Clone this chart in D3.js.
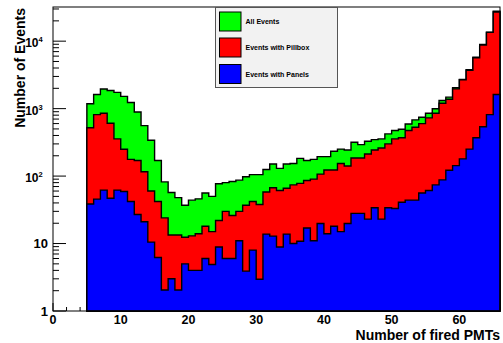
<!DOCTYPE html>
<html>
<head>
<meta charset="utf-8">
<script src="https://cdn.jsdelivr.net/npm/d3@7"></script>
<style>
  body { margin: 0; background: #fff; }
  svg text { font-family: "Liberation Sans", Arial, Helvetica, sans-serif; font-weight: bold; }
</style>
</head>
<body>
<div id="chart"></div>
<script>
// histogram contents, one value per unit bin, first bin starts at 5
const firstBin = 5
const allEvents = [1180, 1620, 1950, 1860, 1740, 1520, 1230, 890, 560, 340,
  170, 82, 57, 48, 37, 44, 46, 56, 50, 77,
  80, 83, 87, 98, 105, 105, 125, 151, 130, 151,
  154, 183, 170, 177, 194, 194, 233, 251, 243, 317,
  293, 328, 347, 356, 422, 473, 495, 593, 680, 745,
  853, 995, 1320, 1480, 2040, 2700, 3780, 5780, 8930, 13600, 27700]
const pillbox = [520, 815, 853, 606, 356, 250, 177, 170, 116, 60,
  42, 24, 13.4, 13.4, 12.4, 13, 14, 18, 15, 22,
  30, 26, 30, 37, 42, 38, 58, 67, 61, 66,
  74, 78, 86, 90, 107, 123, 123, 154, 141, 185,
  185, 212, 243, 261, 300, 356, 370, 473, 529, 600,
  730, 853, 1200, 1380, 1960, 2680, 3700, 5690, 8760, 13500, 27000]
const panels = [38.5, 45.6, 62, 47, 62, 59, 42, 27, 21, 10.5,
  6.2, 2.05, 3.0, 2.05, 5.0, 4.0, 4.0, 6, 4.9, 8.9,
  6, 6, 11, 3.9, 8, 2.96, 13.8, 12.9, 8.9, 13.8,
  10, 10.8, 17, 11, 19.8, 14, 18, 15, 19.8, 28,
  28, 23, 34, 23, 34, 33, 41, 44, 44, 56,
  61, 74, 88, 122, 143, 180, 251, 370, 540, 815, 1620]

const seriesNames = ['All Events', 'Events with Pillbox', 'Events with Panels']
const seriesColors = ['#00ff00', '#ff0000', '#0000ff']
const xTicks = [0, 10, 20, 30, 40, 50, 60]
const yDecades = [1, 10, 100, 1000, 10000]

const width = 503
const height = 343
const frame = { left: 53, right: 500, top: 7, bottom: 311 }

const x = d3.scaleLinear().domain([0, 66]).range([frame.left, frame.right])
const y = d3.scaleLog().domain([1, 32100]).range([frame.bottom, frame.top])

const svg = d3.select('#chart').append('svg')
  .attr('width', width)
  .attr('height', height)

svg.append('rect')
  .attr('x', 0).attr('y', 0).attr('width', width).attr('height', height)
  .attr('fill', '#fff')

// ticks (drawn first so the fills cover them, like ROOT)
const tickG = svg.append('g').attr('stroke', '#000').attr('stroke-width', 1)
const minorX = d3.range(0, 67, 2)
tickG.selectAll('.xt').data(minorX).enter().append('line')
  .attr('x1', d => x(d)).attr('x2', d => x(d))
  .attr('y1', frame.bottom)
  .attr('y2', d => frame.bottom - (d % 10 === 0 ? 8 : 4))

const minorY = []
yDecades.forEach(dec => {
  for (let m = 1; m < 10; m++) {
    const v = dec * m
    if (v <= 32100) minorY.push(v)
  }
})
tickG.selectAll('.yt').data(minorY).enter().append('line')
  .attr('x1', frame.left)
  .attr('x2', d => frame.left + (yDecades.includes(d) ? 13 : 6))
  .attr('y1', d => y(d)).attr('y2', d => y(d))

// histograms: green, then red, then blue on top
const hists = [allEvents, pillbox, panels]
const area = d3.area()
  .curve(d3.curveStepAfter)
  .x(d => x(d.bin))
  .y0(frame.bottom)
  .y1(d => y(d.value))

hists.forEach((values, i) => {
  const pts = values.map((v, j) => ({ bin: firstBin + j, value: v }))
  // closing point at the upper edge of the last bin
  pts.push({ bin: firstBin + values.length, value: values[values.length - 1] })
  svg.append('path')
    .datum(pts)
    .attr('d', area)
    .attr('fill', seriesColors[i])
    .attr('stroke', '#000')
    .attr('stroke-width', 1.4)
    .attr('stroke-linejoin', 'miter')
})

// frame
svg.append('rect')
  .attr('x', frame.left).attr('y', frame.top)
  .attr('width', frame.right - frame.left)
  .attr('height', frame.bottom - frame.top)
  .attr('fill', 'none')
  .attr('stroke', '#000')
  .attr('stroke-width', 1)

// x tick labels
svg.selectAll('.xl').data(xTicks).enter().append('text')
  .attr('x', d => x(d))
  .attr('y', 324)
  .attr('text-anchor', 'middle')
  .attr('font-size', 12.5)
  .text(d => d)

// y tick labels
yDecades.forEach(v => {
  const exp = Math.round(Math.log10(v))
  const ty = y(v)
  if (exp <= 1) {
    svg.append('text')
      .attr('x', 48).attr('y', ty + 4.5)
      .attr('text-anchor', 'end')
      .attr('font-size', 13)
      .text(v)
  } else {
    svg.append('text')
      .attr('x', 38.5).attr('y', ty + 6)
      .attr('text-anchor', 'end')
      .attr('font-size', 12)
      .text('10')
    svg.append('text')
      .attr('x', 38.5).attr('y', ty + 1)
      .attr('text-anchor', 'start')
      .attr('font-size', 7.5)
      .text(exp)
  }
})

// axis titles
svg.append('text')
  .attr('x', frame.right).attr('y', 340)
  .attr('text-anchor', 'end')
  .attr('font-size', 14)
  .text('Number of fired PMTs')

svg.append('text')
  .attr('transform', `translate(25,${frame.top + 1}) rotate(-90)`)
  .attr('text-anchor', 'end')
  .attr('font-size', 14)
  .text('Number of Events')

// legend
const legend = svg.append('g')
legend.append('rect')
  .attr('x', 215.5).attr('y', 7.5).attr('width', 122).attr('height', 80)
  .attr('fill', '#f2f2f2')
  .attr('stroke', '#555')
  .attr('stroke-width', 1)

const rowY = [21.5, 47.5, 74]
seriesNames.forEach((name, i) => {
  legend.append('rect')
    .attr('x', 219.5).attr('y', rowY[i] - 9.5)
    .attr('width', 21.5).attr('height', 19)
    .attr('fill', seriesColors[i])
    .attr('stroke', '#000')
    .attr('stroke-width', 1)
  legend.append('text')
    .attr('x', 245.5).attr('y', rowY[i] + 2.5)
    .attr('font-size', 7)
    .text(name)
})
</script>
</body>
</html>
